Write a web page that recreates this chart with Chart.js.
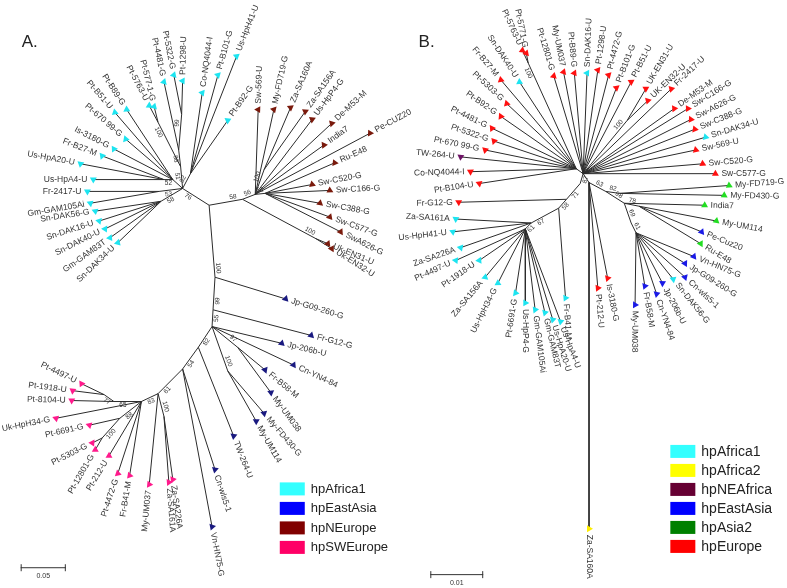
<!DOCTYPE html>
<html>
<head>
<meta charset="utf-8">
<script src="https://cdn.jsdelivr.net/npm/chart.js@4.4.0/dist/chart.umd.min.js"></script>
<style>
  html, body { margin: 0; padding: 0; background: #fff; }
  #wrap { position: relative; width: 787px; height: 588px; }
  #treeA { position: absolute; left: 0; top: 0; }
  #treeB { position: absolute; left: 393px; top: 0; }
</style>
</head>
<body>
<div id="wrap">
  <canvas id="treeA" width="430" height="588"></canvas>
  <canvas id="treeB" width="394" height="588"></canvas>
</div>
<script>
// ---- Panel A: internal nodes (layout units), parent node, bootstrap support
const aNodeX = [209,182,243,215,180,178,181,157,172,163,158,160,190,256,266,318,265,213,212,238,228,198,182,157,163,140,102,112,118,100];
const aNodeY = [204,187,198,277,165,148,112,120,178,178,190,200,172,193,192,238,168,310,327,348,372,348,370,395,418,403,396,403,420,440];
const aNodeParent = [-1,0,0,0,1,4,5,4,1,8,1,1,1,2,13,2,13,3,17,18,18,18,21,22,23,23,27,25,25,28];
const aNodeBoot = ['','76','58','100','51','88','99','100','','52','53','58','82','56','62','100','100','99','55','97','100','82','54','61','100','83','77','65','88','100'];

// ---- Panel A: leaves
const aLeafNames = ['Us-HpH41-U','Pt-B101-G','Co-NQ4044-I','Pt-B92-G','Pt-1298-U','Pt-5322-G','Pt-4481-G','Pt-5763-U','Pt-577-1-G','Pt-B89-G','Pt-B51-U','Pt-670 99-G','Is-3180-G','Fr-B27-M','Us-HpA20-U','Us-HpA4-U','Fr-2417-U','Gm-GAM105Ai','Sn-DAK56-G','Sn-DAK16-U','Sn-DAK40-U','Gm-GAM83T','Sn-DAK34-U',
  'Sw-569-U','My-FD719-G','Za-SA160A','Za-SA156A','Us-HpP4-G','De-M53-M','India7','Pe-CUZ20','Ru-E48','Sw-C520-G','Sw-C166-G','Sw-C388-G','Sw-C577-G','SwA626-G','Uk-EN31-U','Uk-EN32-U',
  'Jp-G09-260-G','Fr-G12-G','Jp-206b-U','Cn-YN4-84','Fr-B58-M','My-UM038','My-FD430-G','My-UM114','TW-264-U','Cn-wls5-1','Vn-HN75-G',
  'My-UM037','Za-SA161A','Za-SA226A','Pt-4497-U','Pt-1918-U','Pt-8104-U','Uk-HpH34-G','Pt-6691-G','Pt-5303-G','Pt-12801-G','Pt-212-U','Pt-4472-G','Fr-B41-M'];
const aLeafGroup = ['AF1','AF1','AF1','AF1','AF1','AF1','AF1','AF1','AF1','AF1','AF1','AF1','AF1','AF1','AF1','AF1','AF1','AF1','AF1','AF1','AF1','AF1','AF1',
  'NEU','NEU','NEU','NEU','NEU','NEU','NEU','NEU','NEU','NEU','NEU','NEU','NEU','NEU','NEU','NEU',
  'EAD','EAD','EAD','EAD','EAD','EAD','EAD','EAD','EAD','EAD','EAD',
  'SWEU','SWEU','SWEU','SWEU','SWEU','SWEU','SWEU','SWEU','SWEU','SWEU','SWEU','SWEU','SWEU'];
const aLeafX = [237,218,202,228,182,173,163,148,153,125,113,124,112,100,78,91,85,88,93,97,103,108,116,
  259,275,292,307,314,334,326,373,337,314,332,322,332,343,330,334,
  287,313,283,295,266,272,265,257,234,215,212,
  148,168,172,79,70,69,53,87,90,93,107,116,128];
const aLeafY = [53,72,90,118,78,72,79,103,104,107,110,137,147,154,162,178,190,202,210,220,228,237,242,
  107,107,105,109,117,121,143,131,161,183,189,202,216,231,243,248,
  299,336,344,366,371,394,415,423,438,472,530,
  487,485,482,385,392,402,420,427,445,452,458,476,478];
const aLeafParent = [12,12,12,12,6,6,5,7,7,8,8,8,8,9,9,9,10,10,11,11,11,11,11,
  13,13,16,16,13,13,13,13,14,14,14,14,14,14,15,15,
  3,17,18,18,19,19,20,20,21,22,22,
  23,24,24,26,26,27,25,28,29,29,25,25,25];

const aLegendLabels = ['hpAfrica1','hpEastAsia','hpNEurope','hpSWEurope'];
const aLegendColors = ['#33ffff','#0000ff','#800000','#ff0066'];

// ---- Panel B: internal nodes
const bNodeX = [583,576,527,628,589,606,620,625,640,632,637,580,566,558,530,524];
const bNodeY = [172,167,60,118,181,190,192,202,205,222,232,182,198,207,222,228];
const bNodeParent = [-1,0,1,0,0,4,5,5,7,7,9,0,11,12,13,14];
const bNodeBoot = ['','','100','100','','63','82','98','78','69','61','87','71','58','67','61'];

// ---- Panel B: leaves
const bLeafNames = ['Pt-5763-U','Pt-5771-G','Fr-B27-M','Sn-DAK40-U','Pt-5303-G','Pt-B92-G','Pt-4481-G','Pt-5322-G','Pt-670 99-G','TW-264-U','Co-NQ4044-I','Pt-B104-U','Fr-G12-G',
  'Pt-12801-G','My-UM037','Pt-B89-G','Sn-DAK16-U','Pt-1298-U','Pt-4472-G','Pt-B101-G','Pt-B51-U','UK-EN31-U','UK-EN32-U','Fr-2417-U','De-M53-M','Sw-C166-G','Sw-A626-G','Sw-C388-G','Sn-DAK34-U','Sw-569-U','Sw-C520-G','Sw-C577-G',
  'My-FD719-G','My-FD430-G','India7','My-UM114','Pe-Cuz20','Ru-E48','Vn-HN75-G','Jp-G09-260-G','Cn-wls5-1','Sn-DAK56-G','Jp-206b-U','Cn-YN4-84','Fr-B58-M','My-UM038','Is-3180-G','Pt-212-U','Za-SA160A',
  'Za-SA161A','Us-HpH41-U','Za-SA226A','Pt-4497-U','Pt-1918-U','Za-SA156A','Us-HpH34-G','Pt-6691-G','Us-HpP4-G','Gm-GAM105Ai','Gm-GAM83T','Us-HpA20-U','Us-HpA4-U','Fr-B41-M'];
const bLeafGroup = ['EU','EU','EU','AF1','EU','EU','EU','EU','EU','NEAF','EU','EU','EU',
  'EU','EU','EU','AF1','EU','EU','EU','EU','EU','EU','EU','EU','EU','EU','EU','AF1','EU','EU','EU',
  'AS2','AS2','AS2','AS2','EA','AS2','EA','EA','EA','AF1','EA','EA','EA','EA','EU','EU','AF2',
  'AF1','AF1','AF1','AF1','AF1','AF1','AF1','AF1','AF1','AF1','AF1','AF1','AF1','AF1'];
const bLeafX = [521,525,499,518,505,499,490,492,483,458,468,477,456,
  553,563,574,587,598,609,617,632,647,649,673,676,690,693,697,708,698,705,718,
  732,727,707,719,704,703,696,687,687,675,664,658,646,636,608,598,589,
  453,450,458,453,477,483,496,514,524,534,544,552,560,565];
const bLeafY = [47,50,77,79,101,114,126,139,148,155,170,182,201,
  73,69,70,70,67,72,85,79,86,98,86,106,106,117,127,135,148,162,172,
  184,194,204,220,231,243,256,263,277,279,283,294,286,305,278,288,532,
  218,231,247,260,260,277,283,293,303,310,313,320,322,298];
const bLeafParent = [2,2,1,1,1,1,1,1,1,1,1,1,12,
  0,0,0,0,0,0,0,0,3,3,0,0,0,0,0,0,0,0,0,
  6,6,7,8,8,8,10,10,10,10,10,10,10,10,4,4,4,
  14,14,14,15,15,15,15,15,15,15,15,15,15,13];

const bLegendLabels = ['hpAfrica1','hpAfrica2','hpNEAfrica','hpEastAsia','hpAsia2','hpEurope'];
const bLegendColors = ['#33ffff','#ffff00','#660033','#0000ff','#008000','#ff0000'];

// marker colours per group (EAD = the darker East Asia markers of panel A)
const markerColors = {
  AF1: '#1de4f0', AF2: '#ffee00', NEAF: '#6e1466', EA: '#1a1ae6', EAD: '#1a1a80',
  AS2: '#22dd22', EU: '#ff1010', NEU: '#7a1a0c', SWEU: '#ff1a8c'
};

const TEXT = '#333';
const FONT = '"Liberation Sans", Arial, sans-serif';

function makeTextPlugin(t) {
  return {
    id: 'treeText',
    afterDatasetsDraw(chart) {
      const ctx = chart.ctx;
      const xs = chart.scales.x, ys = chart.scales.y;
      const px = v => xs.getPixelForValue(v);
      const py = v => ys.getPixelForValue(v);
      ctx.save();
      ctx.fillStyle = TEXT;
      ctx.textBaseline = 'middle';

      // leaf names, radial
      ctx.font = '8.5px ' + FONT;
      t.names.forEach((name, i) => {
        const p = t.leafParent[i];
        const x = px(t.leafX[i]), y = py(t.leafY[i]);
        const a = Math.atan2(y - py(t.nodeY[p]), x - px(t.nodeX[p]));
        ctx.save();
        ctx.translate(x, y);
        if (Math.cos(a) >= -0.02) {
          ctx.rotate(a); ctx.textAlign = 'left'; ctx.fillText(name, 6, 0);
        } else {
          ctx.rotate(a + Math.PI); ctx.textAlign = 'right'; ctx.fillText(name, -6, 0);
        }
        ctx.restore();
      });

      // bootstrap values along the branch into each node
      ctx.font = '6.5px ' + FONT;
      ctx.textAlign = 'center';
      t.boot.forEach((b, i) => {
        const p = t.nodeParent[i];
        if (!b || p < 0) return;
        const x0 = px(t.nodeX[p]), y0 = py(t.nodeY[p]);
        const x1 = px(t.nodeX[i]), y1 = py(t.nodeY[i]);
        const len = Math.hypot(x1 - x0, y1 - y0) || 1;
        const ux = (x1 - x0) / len, uy = (y1 - y0) / len;
        const back = Math.min(9, len * 0.5);
        let a = Math.atan2(uy, ux);
        const bx = x1 - ux * back + uy * 4, by = y1 - uy * back - ux * 4;
        if (Math.cos(a) < 0) a += Math.PI;
        ctx.save();
        ctx.translate(bx, by);
        ctx.rotate(a);
        ctx.fillText(b, 0, 0);
        ctx.restore();
      });

      // panel letter
      ctx.font = '17px ' + FONT;
      ctx.textAlign = 'left';
      ctx.textBaseline = 'alphabetic';
      ctx.fillStyle = '#222';
      ctx.fillText(t.title, px(t.titleAt[0]), py(t.titleAt[1]));

      // scale bar
      const sx0 = px(t.bar[0]), sx1 = px(t.bar[0] + t.bar[2]), sy = py(t.bar[1]);
      ctx.strokeStyle = '#333';
      ctx.lineWidth = 1;
      ctx.beginPath();
      ctx.moveTo(sx0, sy + 0.5); ctx.lineTo(sx1, sy + 0.5);
      ctx.moveTo(sx0 + 0.5, sy - 3); ctx.lineTo(sx0 + 0.5, sy + 4);
      ctx.moveTo(sx1 - 0.5, sy - 3); ctx.lineTo(sx1 - 0.5, sy + 4);
      ctx.stroke();
      ctx.font = '7px ' + FONT;
      ctx.textAlign = 'center';
      ctx.fillStyle = '#333';
      ctx.fillText(t.barLabel, (sx0 + sx1) / 2, sy + 11);

      // legend
      ctx.font = t.legendFont + 'px ' + FONT;
      ctx.textAlign = 'left';
      ctx.textBaseline = 'middle';
      t.legendLabels.forEach((lab, i) => {
        const lx = px(t.legendAt[0]), ly = py(t.legendAt[1]) + i * t.legendStep;
        ctx.fillStyle = t.legendColors[i];
        ctx.fillRect(lx, ly, 25, 13);
        ctx.fillStyle = '#222';
        ctx.fillText(lab, lx + 31, ly + 7);
      });
      ctx.restore();
    }
  };
}

function buildPanel(id, xMin, xMax, t) {
  const segs = [];
  t.nodeX.forEach((x, i) => {
    const p = t.nodeParent[i];
    if (p < 0) return;
    segs.push({x: t.nodeX[p], y: t.nodeY[p]}, {x: x, y: t.nodeY[i]}, {x: null, y: null});
  });
  t.leafX.forEach((x, i) => {
    const p = t.leafParent[i];
    segs.push({x: t.nodeX[p], y: t.nodeY[p]}, {x: x, y: t.leafY[i]}, {x: null, y: null});
  });

  const groups = [...new Set(t.leafGroup)];
  const markerSets = groups.map(g => ({
    label: g,
    order: 0,
    data: t.leafX.map((x, i) => {
      const p = t.leafParent[i];
      const rot = Math.atan2(t.leafY[i] - t.nodeY[p], x - t.nodeX[p]) * 180 / Math.PI;
      return {x: x, y: t.leafY[i], g: t.leafGroup[i], rot: rot};
    }).filter(d => d.g === g),
    showLine: false,
    pointStyle: 'triangle',
    pointRadius: 4,
    pointBorderWidth: 0,
    pointBackgroundColor: markerColors[g],
    pointRotation: c => (c.raw ? c.raw.rot : 0),
    clip: false
  }));

  return new Chart(document.getElementById(id), {
    type: 'scatter',
    data: {
      datasets: [...markerSets, {
        label: 'branches',
        order: 10,
        data: segs,
        showLine: true,
        spanGaps: false,
        borderColor: '#2b2b2b',
        borderWidth: 1,
        pointRadius: 0,
        clip: false
      }]
    },
    options: {
      responsive: false,
      animation: false,
      devicePixelRatio: 1,
      events: [],
      layout: {padding: 0},
      plugins: {legend: {display: false}, tooltip: {enabled: false}},
      scales: {
        x: {type: 'linear', min: xMin, max: xMax, display: false},
        y: {type: 'linear', min: 0, max: 588, reverse: true, display: false}
      }
    },
    plugins: [makeTextPlugin(t)]
  });
}

// panel A canvas runs a little past the divide so the Pe-CUZ20 label can overhang
buildPanel('treeA', 0, 430, {
  nodeX: aNodeX, nodeY: aNodeY, nodeParent: aNodeParent, boot: aNodeBoot,
  names: aLeafNames, leafGroup: aLeafGroup,
  leafX: aLeafX, leafY: aLeafY, leafParent: aLeafParent,
  title: 'A.', titleAt: [18, 44],
  bar: [17, 571, 46], barLabel: '0.05',
  legendLabels: aLegendLabels, legendColors: aLegendColors,
  legendAt: [281, 485], legendStep: 19.5, legendFont: 13
});

buildPanel('treeB', 393, 787, {
  nodeX: bNodeX, nodeY: bNodeY, nodeParent: bNodeParent, boot: bNodeBoot,
  names: bLeafNames, leafGroup: bLeafGroup,
  leafX: bLeafX, leafY: bLeafY, leafParent: bLeafParent,
  title: 'B.', titleAt: [415, 44],
  bar: [427, 578, 54], barLabel: '0.01',
  legendLabels: bLegendLabels, legendColors: bLegendColors,
  legendAt: [672, 447], legendStep: 19, legendFont: 14
});
</script>
</body>
</html>
